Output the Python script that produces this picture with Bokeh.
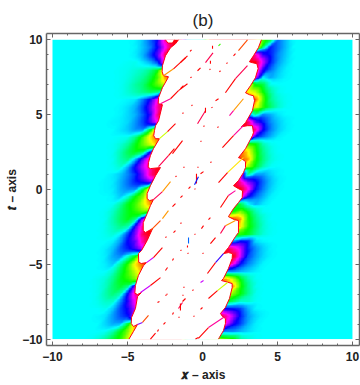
import colorsys
import numpy as np
from bokeh.embed import file_html
from bokeh.models import FixedTicker, LinearAxis, LinearColorMapper, Range1d
from bokeh.plotting import figure
from bokeh.resources import INLINE

# Field values: signed tenths, 0 = cyan, +3.3 = blue, +6.7 = magenta,
# -3.3 = green, -6.7 = yellow, +-10 = red.
t_rows = [10, 9.5, 9, 8.5, 8, 7.5, 7, 6.5, 6, 5.5, 5, 4.5, 4, 3.5, 3, 2.5, 2, 1.5, 1, .5, 0,
          -.5, -1, -1.5, -2, -2.5, -3, -3.5, -4, -4.5, -5, -5.5, -6, -6.5, -7, -7.5, -8, -8.5, -9, -9.5, -10]
# columns x = -7.5 ... -1.5
left_cols = [-7.5, -7, -6.5, -6, -5.5, -5, -4.5, -4, -3.5, -3, -2.5, -2, -1.5]
left_field = [
    [0, 0, 0, 0, 0, 0, .1, .8, 2, 3.5, 8, 10, 10],
    [0, 0, 0, 0, 0, 0, .1, .8, 1.7, 3.5, 6.7, 10, 10],
    [0, 0, 0, 0, 0, 0, .2, 1, 2.5, 4.5, 9, 10, 10],
    [0, 0, 0, 0, 0, -.1, -.2, .3, 1, 2.5, 8, 10, 10],
    [0, 0, 0, 0, -.1, -.2, -.5, -.8, -1.5, -3, -9, -10, -10],
    [0, 0, 0, 0, -.1, -.3, -.8, -1.3, -2.4, -4.2, -8, -10, -10],
    [0, 0, 0, 0, -.1, -.5, -1.2, -1.8, -3.2, -4.5, -6, -8, -8],
    [0, 0, 0, 0, -.1, -.5, -1, -1.5, -2, -1.5, 2, -4, -4],
    [0, 0, 0, 0, 0, .1, .3, 1.8, 3.6, 7, 10, 10, 10],
    [0, 0, 0, 0, .1, .4, 1, 2.5, 4.6, 8, 10, 10, 10],
    [0, 0, 0, 0, .1, .5, 1, 2.2, 3.9, 8.5, 10, 10, 10],
    [0, 0, 0, .1, .2, .5, 1.4, 2.5, 4.2, 7, 10, 10, 10],
    [0, 0, 0, 0, .3, .7, 1.4, 1.5, -2.5, -9, -10, -10, -10],
    [0, 0, 0, 0, -.1, -.2, -1.5, -4.2, -7, -9, -10, -10, -10],
    [0, 0, 0, -.1, -.5, -1.3, -3, -4.6, -6, -8, -10, -10, -10],
    [0, 0, 0, -.1, -1, -2.2, -3, -2.2, 3.3, 8, 10, 10, 10],
    [0, 0, 0, -.1, -1, -1.6, 1, 4.7, 8, 10, 10, 10, 10],
    [0, 0, 0, -.1, -.6, 1, 3.6, 6, 8, 10, 10, 10, 10],
    [0, 0, 0, .2, .7, 1.6, 2.8, 5, 8, 10, 10, 10, 10],
    [0, 0, .1, .2, 1, 1.9, 3, 3.6, 5, -4, -10, -10, -10],
    [0, 0, .1, .2, 1, 1.5, 1.5, -2.5, -8, -10, -10, -10, -10],
    [0, 0, 0, .1, .7, -.6, -3.3, -5, -9, -10, -10, -10, -10],
    [0, 0, 0, -.1, -1.2, -3, -4.1, -6, -8, -9, -10, -10, -10],
    [0, 0, -.1, -.7, -1.9, -3, -3.7, -4.6, -4, 2, 10, 10, 10],
    [0, 0, -.1, -1, -2.1, -3, -1.5, 6, 9, 10, 10, 10, 10],
    [0, 0, -.2, -.8, -1.5, -1, 4, 8, 10, 10, 10, 10, 10],
    [0, 0, -.2, -.5, .2, 2.6, 5, 9, 10, 10, 10, 10, 10],
    [0, 0, 0, .2, 1.3, 3.4, 4.6, 8, 10, 10, 10, 10, 10],
    [0, 0, .2, .8, 2.1, 3, 4, 6, 10, 10, 10, 10, 10],
    [0, 0, .2, 1.1, 1.5, -.7, -3.3, -8, -10, -10, -10, -10, -10],
    [0, 0, .2, .7, -1.3, -3.8, -7, -9, -10, -10, -10, -10, -10],
    [0, 0, 0, -.7, -2.5, -4.1, -6, -8, -10, -10, -10, -10, -10],
    [0, -.2, -.5, -1.5, -3, -3.7, -5, -8, -10, -10, -10, -10, -10],
    [0, -.2, -.7, -1.9, -2.7, -1.5, 6, 10, 10, 10, 10, 10, 10],
    [0, -.2, -1, -1.8, -1, 3.4, 8, 10, 10, 10, 10, 10, 10],
    [0, -.2, -.7, -.7, 1.5, 3.8, 7, 10, 10, 10, 10, 10, 10],
    [0, 0, -.2, .7, 2.4, 3.6, 6, 8, 10, 10, 10, 10, 10],
    [0, .1, .3, 1.3, 2.3, 3, 7, 9, 10, 10, 10, 10, 10],
    [0, 0, .5, 1.1, 1, -2.5, -8, -10, -10, -10, -10, -10, -10],
    [0, 0, -.1, -1, -3, -5, -8, -10, -10, -10, -10, -10, -10],
    [-.1, -.5, -1.2, -2.5, -3.7, -6, -8, -10, -10, -10, -10, -10, -10],
]
# columns x = 0.5 ... 5.5
right_cols = [.5, 1, 1.5, 2, 2.5, 3, 3.5, 4, 4.5, 5, 5.5]
right_field = [
    [-10, -10, -10, -10, -10, -10, -8, -4, -2.5, 1.9, .9],
    [-10, -10, -10, -10, -10, -10, -9, -2, 3, 1.9, .9],
    [10, 10, 10, 10, 10, 10, 8, 3.8, 3, 1.5, .7],
    [10, 10, 10, 10, 10, 10, 10, 6, 3, 1.3, .5],
    [10, 10, 10, 10, 10, 10, 9, 3.8, 2, .8, .2],
    [10, 10, 10, 10, 10, 10, 7, .2, 1.2, .5, .1],
    [-8, -8, -8, -8, -8, -8, -3, -2.5, -.2, 0, 0],
    [-8, -8, -8, -8, -8, -7, -6, -3.4, -1.2, -.2, 0],
    [-9, -9, -9, -9, -9, -9, -9, -4.5, -1.5, -.5, -.1],
    [-8, -8, -8, -8, -8, -8, -7, -4, -2, -.7, -.1],
    [5, 5, 5, 5, 5, 2, -1.5, 1.5, 1, .3, 0],
    [10, 10, 10, 10, 10, 9, 4.5, 3, 1.5, .7, .2],
    [10, 10, 10, 10, 10, 10, 8, 3.6, 1.7, .7, .2],
    [10, 10, 10, 10, 10, 10, 3.3, 2, 1, .2, 0],
    [-8, -8, -8, -8, -8, -4, -3.3, -1, -.2, 0, 0],
    [-9, -9, -9, -9, -9, -7, -3.8, -1.5, -.4, 0, 0],
    [-9, -9, -9, -9, -9, -8, -3.8, -1.7, -.5, -.1, 0],
    [-8, -8, -8, -8, -8, -5.5, -3, -1, -.1, 0, 0],
    [8, 8, 8, 8, 8, -1.5, 1.2, 1.2, .5, .1, 0],
    [10, 10, 10, 10, 8, 5, 3.6, 2, .8, .2, 0],
    [10, 10, 10, 10, 10, 7, 3.3, 1.7, .6, .1, 0],
    [10, 10, 10, 10, 8, 3.6, 2, 1, .2, 0, 0],
    [-3, -3, -3, -3, -2.5, 0, 1, .3, 0, 0, 0],
    [-9, -9, -9, -3.3, -5, -3, -1, -.1, 0, 0, 0],
    [-9, -9, -9, -9, -8, -3.8, -1.7, -.5, 0, 0, 0],
    [-9, -9, -9, -9, -7, -3.8, -2, -.6, -.1, 0, 0],
    [-5, -5, -5, -3.3, -3.8, -3, -1.5, -.5, -.1, 0, 0],
    [8, 8, 8, 1.5, 3.3, 3, .5, .1, 0, 0, 0],
    [10, 10, 10, 8, 6, 3, 1.5, .6, .1, 0, 0],
    [10, 10, 10, 10, 6, 2.5, 1.3, .5, .1, 0, 0],
    [10, 10, 10, 7, 3.3, 1.7, .8, .1, 0, 0, 0],
    [3.3, 3.3, 1.5, 1.5, 1, .6, .2, 0, 0, 0, 0],
    [-8, -8, -8, -6, -3, -1, -.1, 0, 0, 0, 0],
    [-9, -9, -9, -8, -3.8, -1.5, -.2, 0, 0, 0, 0],
    [-9, -9, -7, -5, -3.3, -1.5, -.2, 0, 0, 0, 0],
    [-5, -5, -3.3, -2, -.7, -.7, -.1, 0, 0, 0, 0],
    [5, 5, 3.3, 3, 2.5, 1, .1, 0, 0, 0, 0],
    [10, 10, 8, 5.5, 3, 1.3, .5, .1, 0, 0, 0],
    [10, 10, 7, 3.8, 2.5, 1, .2, 0, 0, 0, 0],
    [3.3, 3.3, 1.5, 1.5, 1, .5, .1, 0, 0, 0, 0],
    [-5, -5, -4, -3.3, -1.2, -.5, -.1, 0, 0, 0, 0],
]

# Edge of the white core (x, t), top to bottom.
left_edge_x = [-1.6, -1.8, -2.13, -2.47, -2.67, -2.69, -2.6, -2.27, -2.33, -2.67, -2.93, -2.95, -2.67, -2.93, -3.13,
               -3.2, -3.25, -3.13, -2.87, -3.27, -3.47, -3.6, -3.62, -3.47, -2.8, -3.13, -3.47, -3.69, -3.69, -3.53,
               -3.27, -3.47, -3.69, -3.95, -3.95, -3.8, -3.33, -3.69, -4.07, -4.27, -4.25, -4.07, -3.73, -3.93, -4.27,
               -4.47, -4.51, -4.33, -4.07, -4.33, -4.47, -4.73, -4.75, -4.6, -4.33, -4.6, -4.9]
left_edge_t = [10, 9.73, 9.47, 8.93, 8.27, 7.86, 7.6, 7.53, 7.4, 6.8, 6.13, 5.73, 5.66, 4.59, 4.26,
               3.93, 3.59, 3.39, 3.39, 2.72, 2.26, 1.79, 1.47, 1.39, 1.46, .92, .25, -.28, -.61, -.75,
               -.68, -1.08, -1.62, -2.22, -2.75, -2.88, -2.62, -3.42, -4.09, -4.29, -4.87, -4.95, -4.89, -5.09, -5.75,
               -6.42, -6.94, -7.02, -6.89, -7.16, -7.96, -8.56, -8.96, -9.16, -9.02, -9.49, -10]
right_edge_x = [3.93, 3.73, 3.4, 3.13, 3.33, 3.63, 3.71, 3.53, 3.2, 2.87, 3.13, 3.4, 3.47, 3.33, 2.87, 2.6, 3, 3.33, 3.4,
                3.33, 2.87, 2.4, 2.6, 2.87, 2.87, 2.73, 2.4, 2.07, 2.4, 2.67, 2.65, 2.4, 2.07, 1.73, 2.13, 2.4, 2.4,
                2.2, 1.73, 1.4, 1.73, 2, 1.98, 1.73, 1.4, 1.27, 1.65, 1.98, 1.98, 1.8, 1.53, 1.2, 1.33, 1.53, 1.53,
                1.4, 1.13, 1.07]
right_edge_t = [10, 9.47, 8.93, 8.53, 8.47, 8.4, 8.07, 7.46, 6.93, 6.46, 6.33, 6.26, 5.93, 5.26, 4.46, 4.19, 4.26, 4.26, 3.79,
                3.59, 2.72, 2.12, 2.06, 1.86, 1.46, 1.12, .59, .25, .05, -.08, -.55, -.88, -1.28, -1.82, -2.02, -2.08, -2.88,
                -3.15, -3.89, -4.29, -4.22, -4.29, -4.62, -5.29, -5.95, -6.09, -6.19, -6.29, -6.56, -7.29, -7.89, -8.29, -8.49, -8.63, -8.96,
                -9.43, -9.89, -10]
notch_x = [-2.47, -2.3, -2, -1.87]
notch_t = [10, 9.78, 9.78, 10]

# Thin coloured tails leaving the lobes: start, end, field value.
tail_x0 = [-2.6, -1.93, -2.8, -2.13, -1.6, -2.87, -2.33, -2.93, -2.27, -3.27, -2.67, -3.47, -2.67, -3.73, -3.27, -4.13, -3.47,
           -4.33, -4, 3, 3, 2.2, 2.73, 2.07, 2.73, 2.07, 2.73, 1.67, 2.2, 1.73, 2.2, 1.53, 1.4, .87, 1.67, 1, 1.4, .4]
tail_t0 = [7.6, 8.06, 5.73, 6.06, 6.6, 3.39, 3.86, 1.52, 2.26, -.68, -.15, -2.75, -1.95, -4.89, -4.55, -6.89, -6.42,
           -9.02, -8.89, 10, 8.27, 7.4, 6.06, 5.26, 4.26, 3.59, 2.12, 1.12, -.08, -.41, -2.08, -2.42, -4.29, -4.89, -6.22, -6.76, -8.56, -9.23]
tail_x1 = [-1.93, -1, -2.13, -1.6, -1, -2.33, -1.8, -2.27, -1.87, -2.67, -2.13, -2.8, -2.27, -3.27, -2.67, -3.47, -2.8,
           -4, -3.6, 2.4, 2.2, 1.53, 2.07, 1.8, 2.07, 1.33, 1.67, 1.07, 1.73, 1.2, 1.53, 1.2, .87, .33, 1, .4, .4, -.27]
tail_t1 = [8.06, 8.93, 6.06, 6.6, 7.06, 3.86, 4.39, 2.26, 2.72, -.15, .52, -2.08, -1.42, -4.55, -3.89, -6.42, -5.89,
           -8.89, -8.42, 9.27, 7.4, 6.46, 5.26, 4.93, 3.59, 2.79, 1.12, .45, -.41, -1.21, -2.42, -2.95, -4.89, -5.62, -6.76, -7.29, -9.23, -9.96]
tail_v = [-8, -10, 8, 10, -10, -6, -10, 9, 10, 9, -8, -9, -8, 6, -10, 6, -10,
          5, -9, -9, 9, 10, -8, 8, 8, 10, -7, -10, 8, 10, -8, 9, 4, 10, -6, 10, 8, 10]

# Isolated marks scattered across the white core: start, end, field value.
mark_x0 = [-1.47, -.83, -.33, .2, .67, .53, -.8, -1.47, -1.33, 1.07, .47, 1.13, 1.6, 2.07, .87, -.33, .2, .07, .6, 1, -.73,
           -2, -.13, -1.27, -1.8, -.33, -.13, -.4, -.53, -.53, -.93, .53, -1.47, -2, .4, -1.47, -.07, -1.93, -.53, -.93,
           -1, -1, -1.47, -2, .53, 0, -.13, -1.27, -.67, -1.33, -1.33, -1.6, -1.47, -.13, -.6, -1.6, -2, -.47, -3.47,
           -3, -2.4, -3, -2.47, -2.6, -2.47, -2.47]
mark_t0 = [8.47, 9.23, 7.93, 8.47, 9.6, 8.6, 7.45, 6.73, 5.06, 9.6, 8, 7.86, 8.4, 8.93, 5.93, 4.39, 5.46, 4.19, 5.46, 4.13, 5.59,
           2.39, 3.19, 1.46, .85, 1.46, 1.05, 1.05, .32, 0, .05, 1.79, -.55, -1.15, -2.02, -2.28, -2.62, -2.88, -3.02, -3.22,
           -3.75, -4.29, -4.09, -4.75, -3.62, -4.29, -6.22, -6.56, -6.76, -7.49, -7.09, -7.96, -7.62, -8.02, -8.49, -8.56, -8.36, -10, -10,
           -9.49, -7.02, -7.56, -5.42, -9.02, -7.09, -3.22]
mark_x1 = [-1.13, -.73, -.13, .7, .67, .53, -.73, -1.27, -1.27, 1.2, .53, 1.2, 1.67, 2.2, 1.07, .2, .2, .13, .67, 1.07, -.67,
           -1.33, -.07, -1.2, -1.73, -.27, .07, -.4, -.27, -.47, -.8, .6, -1.33, -1.8, .53, -1.4, .07, -1.8, -.47, -.93,
           -1, -.93, -1.4, -1.93, .87, .07, .07, -1.2, -.6, -1.13, -1.27, -1.33, -1.47, 0, -.53, -1.53, -1.93, -.27, -3.13,
           -2.93, -2.33, -2.87, -2.33, -2.47, -2.4, -2.4]
mark_t1 = [8.8, 9.33, 8.13, 9.13, 9.4, 8.4, 7.52, 6.93, 5.13, 9.73, 8.05, 7.93, 8.47, 9.07, 6.06, 5.26, 5.13, 4.26, 5.5, 4.2, 5.65,
           3.26, 3.25, 1.5, .9, 1.5, 1.19, .39, .85, .05, .19, 1.85, -.41, -.95, -1.88, -2.23, -2.42, -2.75, -2.97, -3.62,
           -3.88, -4.25, -4.05, -4.62, -3.22, -4.25, -6.09, -6.52, -6.69, -7.29, -7.05, -7.56, -8.09, -7.89, -8.45, -8.52, -8.22, -9.89, -9.6,
           -9.36, -6.98, -7.49, -5.22, -8.89, -7.05, -3.15]
mark_v = [10, 10, 10, 9, 10, 10, 10, 10, 10, -4, 10, 10, 10, 10, 10, 9, 10, 10, 10, 10, 10,
          10, 10, 10, 10, 10, 10, 10, 3, 10, 10, 10, 10, 10, 10, 10, 10, 10, 10, 2,
          10, 10, 10, 10, 10, 10, 6, 10, 10, 10, 10, 9, 10, 10, 10, 10, 10, 10, 10,
          10, 10, 10, 10, 10, 10, 10]

x_major = [-10, -5, 0, 5, 10]
y_major = [-10, -5, 0, 5, 10]
minor_steps = list(range(-10, 11))
tick_text = {-10: "\u221210", -5: "\u22125", 0: "0", 5: "5", 10: "10"}


def hue_color(v):
    h = min(max(0.5 + 0.05 * v, 0), 1)
    r, g, b = colorsys.hsv_to_rgb(h % 1.0, 1, 1)
    return "#%02x%02x%02x" % (round(r * 255), round(g * 255), round(b * 255))


palette = [hue_color(-10 + 20 * i / 400) for i in range(401)]
mapper = LinearColorMapper(palette=palette, low=-10, high=10)

# Assemble the read-off table on a 0.5 step grid spanning -10..10
grid_x = np.arange(-10, 10.01, .5)
grid = np.zeros((len(t_rows), len(grid_x)))
for i in range(len(t_rows)):
    grid[i, 5:18] = left_field[i]
    grid[i, 21:32] = right_field[i]
grid = grid[::-1]
grid_t = np.array(t_rows[::-1], dtype=float)

# Resample between rows along the streak direction seen in the picture, for a smooth bitmap.
streak_dx_per_t = 0.7
fine_x = np.linspace(-10, 10, 401)
fine_t = np.linspace(-10, 10, 401)
field = np.zeros((len(fine_t), len(fine_x)))
for n, tv in enumerate(fine_t):
    i = min(int((tv + 10) / .5), len(grid_t) - 2)
    a = (tv - grid_t[i]) / .5
    lower = np.interp(fine_x - streak_dx_per_t * (tv - grid_t[i]), grid_x, grid[i])
    upper = np.interp(fine_x + streak_dx_per_t * (grid_t[i + 1] - tv), grid_x, grid[i + 1])
    field[n] = (1 - a) * lower + a * upper

p = figure(width=360, height=385, x_range=Range1d(-10.4, 10.47), y_range=Range1d(-10.43, 10.42),
           output_backend="svg", toolbar_location=None, tools="",
           min_border_left=46, min_border_right=1, min_border_top=33, min_border_bottom=40,
           outline_line_color=None, background_fill_color="white", x_axis_type=None, y_axis_type=None,
           title="(b)")
p.grid.visible = False
p.title.align = "center"
p.title.text_font = "Liberation Sans"
p.title.text_font_size = "17px"
p.title.text_font_style = "normal"
p.title.text_color = "#222222"
p.title.standoff = 8

p.image(image=[field], x=-10, y=-10, dw=20, dh=20, color_mapper=mapper)

white_x = left_edge_x + right_edge_x[::-1]
white_t = left_edge_t + right_edge_t[::-1]
p.patch(white_x, white_t, fill_color="white", line_color=None)
p.patch(notch_x, notch_t, fill_color="white", line_color=None)
p.line(left_edge_x, left_edge_t, line_color="#ff0010", line_width=1.0)
p.line(right_edge_x, right_edge_t, line_color="#ff0010", line_width=1.0)
p.line(notch_x, notch_t, line_color="#ff0010", line_width=1)
p.segment(tail_x0, tail_t0, tail_x1, tail_t1, line_color=[hue_color(v) for v in tail_v], line_width=1.1)
p.segment(mark_x0, mark_t0, mark_x1, mark_t1, line_color=[hue_color(v) for v in mark_v], line_width=1.1)

axis_style = dict(axis_line_color="#666666", axis_line_width=1.5, major_tick_line_color="#666666",
                  minor_tick_line_color="#666666", major_tick_in=4, major_tick_out=0, minor_tick_in=2,
                  minor_tick_out=0, major_label_text_font="Liberation Sans", major_label_text_font_size="12px",
                  major_label_text_font_style="bold", major_label_text_color="#222222",
                  axis_label_text_font="Liberation Sans", axis_label_text_font_size="12px",
                  axis_label_text_font_style="bold", axis_label_text_color="#222222")
axis_names = {"below": "\U0001D499 \u2013 axis", "left": "\U0001D495 \u2013 axis"}
for loc, ticks in (("below", x_major), ("left", y_major), ("above", x_major), ("right", y_major)):
    ax = LinearAxis(ticker=FixedTicker(ticks=ticks, minor_ticks=minor_steps), **axis_style)
    if loc in ("below", "left"):
        ax.major_label_overrides = {k: tick_text[k] for k in ticks}
        ax.major_label_standoff = 6 if loc == "below" else 4
        ax.axis_label = axis_names[loc]
        ax.axis_label_standoff = 4 if loc == "below" else 0
    else:
        ax.major_label_overrides = {k: "" for k in ticks}
        ax.major_label_standoff = 0
    p.add_layout(ax, loc)

open("out.html", "w").write(file_html(p, INLINE))
